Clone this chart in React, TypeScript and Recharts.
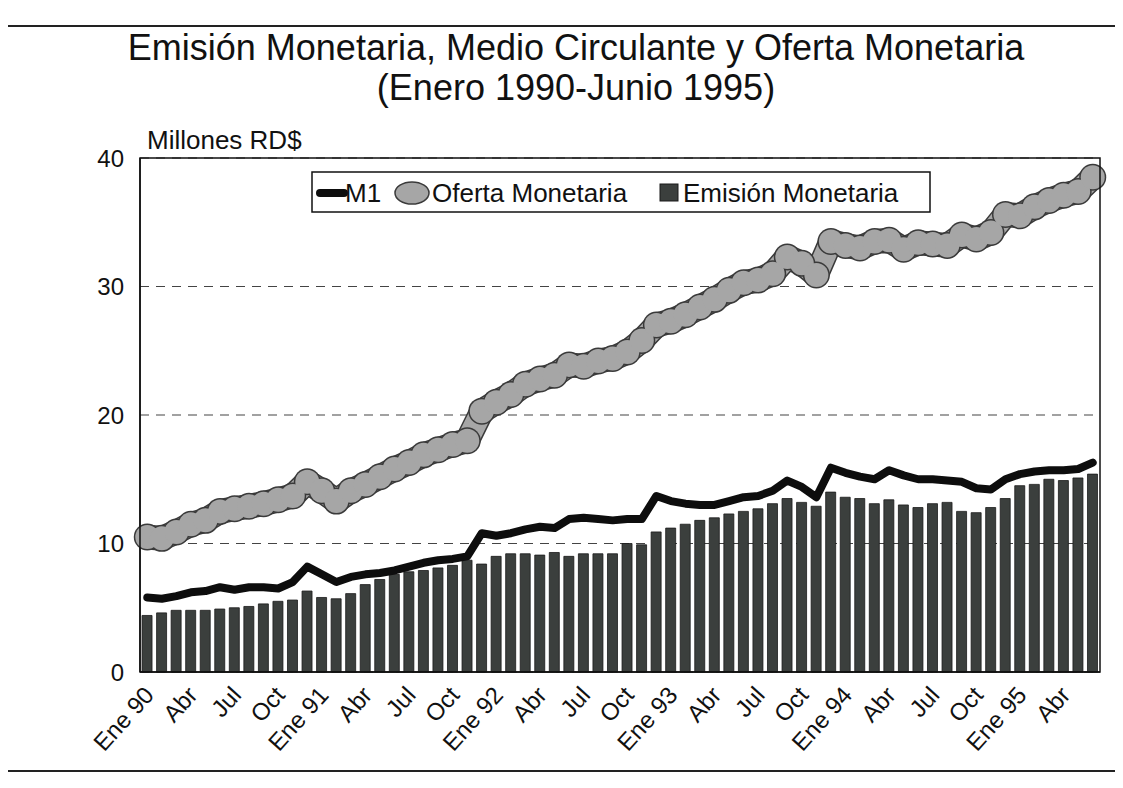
import React from 'react';
import { ComposedChart, Bar, Line, XAxis, YAxis, CartesianGrid } from 'recharts';

const FONT = '"Liberation Sans", Arial, Helvetica, sans-serif';

const monthNames = ['Ene', 'Feb', 'Mar', 'Abr', 'May', 'Jun', 'Jul', 'Ago', 'Sep', 'Oct', 'Nov', 'Dic'];
const yearLabels = ['90', '91', '92', '93', '94', '95'];

// Emisión Monetaria (barras), millones RD$
const emision = [
  4.4, 4.6, 4.8, 4.8, 4.8, 4.9, 5.0, 5.1, 5.3, 5.5, 5.6, 6.3,
  5.8, 5.7, 6.1, 6.8, 7.2, 7.6, 7.8, 7.9, 8.1, 8.3, 8.7, 8.4,
  9.0, 9.2, 9.2, 9.1, 9.3, 9.0, 9.2, 9.2, 9.2, 10.0, 9.9, 10.9,
  11.2, 11.5, 11.8, 12.0, 12.3, 12.5, 12.7, 13.1, 13.5, 13.2, 12.9, 14.0,
  13.6, 13.5, 13.1, 13.4, 13.0, 12.8, 13.1, 13.2, 12.5, 12.4, 12.8, 13.5,
  14.5, 14.6, 15.0, 14.9, 15.1, 15.4,
];

// M1 (medio circulante)
const m1 = [
  5.8, 5.7, 5.9, 6.2, 6.3, 6.6, 6.4, 6.6, 6.6, 6.5, 7.0, 8.2,
  7.6, 7.0, 7.4, 7.6, 7.7, 7.9, 8.2, 8.5, 8.7, 8.8, 9.0, 10.8,
  10.6, 10.8, 11.1, 11.3, 11.2, 11.9, 12.0, 11.9, 11.8, 11.9, 11.9, 13.7,
  13.3, 13.1, 13.0, 13.0, 13.3, 13.6, 13.7, 14.1, 14.9, 14.4, 13.6, 15.9,
  15.5, 15.2, 15.0, 15.7, 15.3, 15.0, 15.0, 14.9, 14.8, 14.3, 14.2, 15.0,
  15.4, 15.6, 15.7, 15.7, 15.8, 16.3,
];

// Oferta Monetaria
const oferta = [
  10.5, 10.4, 10.9, 11.5, 11.8, 12.5, 12.7, 12.9, 13.1, 13.4, 13.7, 14.8,
  14.1, 13.3, 14.1, 14.6, 15.2, 15.8, 16.3, 16.9, 17.3, 17.7, 18.0, 20.3,
  21.0, 21.6, 22.4, 22.8, 23.1, 23.9, 23.8, 24.2, 24.4, 24.9, 25.8, 27.0,
  27.3, 27.8, 28.4, 29.0, 29.7, 30.3, 30.5, 31.0, 32.3, 31.8, 30.9, 33.5,
  33.2, 33.0, 33.5, 33.6, 32.9, 33.4, 33.3, 33.2, 34.0, 33.7, 34.2, 35.6,
  35.5, 36.2, 36.7, 37.1, 37.4, 38.5,
];

const yTicks = [0, 10, 20, 30, 40];

const categories: string[] = [];
yearLabels.forEach((yr) => {
  monthNames.forEach((m) => {
    if (categories.length < emision.length) categories.push(m === 'Ene' ? `Ene ${yr}` : m);
  });
});

const data = categories.map((mes, i) => ({
  mes,
  emision: emision[i],
  m1: m1[i],
  oferta: oferta[i],
}));

const W = 1107;
const H = 772;
const margin = { top: 150, right: 15, bottom: 8, left: 92 };
const Y_AXIS_W = 40;
const X_AXIS_H = 100;
const plotLeft = margin.left + Y_AXIS_W;
const plotTop = margin.top;
const plotRight = W - margin.right;
const plotBottom = H - margin.bottom - X_AXIS_H;

const XTick = (props: any) => {
  const { x, y, payload } = props;
  const px = x + 8;
  const py = y + 16;
  return (
    <text
      x={px}
      y={py}
      textAnchor="end"
      fontSize={24}
      fontFamily={FONT}
      fill="#111"
      transform={`rotate(-48, ${px}, ${py})`}
    >
      {payload.value}
    </text>
  );
};

const App: React.FC = () => {
  return (
    <div style={{ position: 'relative', width: W, height: H, fontFamily: FONT, background: '#fff' }}>
      <div
        style={{
          position: 'absolute',
          left: -8,
          top: 17,
          width: W + 16,
          height: 743,
          borderTop: '2px solid #222',
          borderBottom: '2px solid #222',
        }}
      />
      <ComposedChart width={W} height={H} data={data} margin={margin} barCategoryGap="14%">
        <CartesianGrid vertical={false} strokeDasharray="9 7" stroke="#444" strokeWidth={1.2} />
        <XAxis
          dataKey="mes"
          interval={2}
          height={X_AXIS_H}
          tick={<XTick />}
          tickLine={false}
          axisLine={{ stroke: '#111', strokeWidth: 1.5 }}
        />
        <YAxis
          domain={[0, 40]}
          ticks={yTicks}
          width={Y_AXIS_W}
          tickLine={false}
          axisLine={{ stroke: '#111', strokeWidth: 1.5 }}
          tickMargin={10}
          tick={{ fontSize: 24, fill: '#111', fontFamily: FONT }}
        />
        <Bar dataKey="emision" fill="#3b3f3d" stroke="#1a1a1a" strokeWidth={0.8} isAnimationActive={false} />
        <Line
          dataKey="oferta"
          stroke="#3a3a3a"
          strokeWidth={25}
          strokeLinejoin="round"
          dot={{ r: 13.5, fill: '#3a3a3a', stroke: 'none' }}
          activeDot={false}
          isAnimationActive={false}
        />
        <Line
          dataKey="oferta"
          stroke="#a6a6a6"
          strokeWidth={22}
          strokeLinejoin="round"
          dot={{ r: 12, fill: '#a6a6a6', stroke: 'none' }}
          activeDot={false}
          isAnimationActive={false}
        />
        <Line
          dataKey="m1"
          stroke="#0d0d0d"
          strokeWidth={8}
          strokeLinejoin="round"
          strokeLinecap="round"
          dot={false}
          activeDot={false}
          isAnimationActive={false}
        />
      </ComposedChart>
      <svg width={W} height={H} style={{ position: 'absolute', left: 0, top: 0, pointerEvents: 'none' }}>
        <rect
          x={plotLeft}
          y={plotTop}
          width={plotRight - plotLeft}
          height={plotBottom - plotTop}
          fill="none"
          stroke="#111"
          strokeWidth={1.5}
        />
        <text x={568} y={52} textAnchor="middle" fontSize={36} fontFamily={FONT} fill="#111">
          Emisión Monetaria, Medio Circulante y Oferta Monetaria
        </text>
        <text x={568} y={92} textAnchor="middle" fontSize={36} fontFamily={FONT} fill="#111">
          (Enero 1990-Junio 1995)
        </text>
        <text x={139} y={141} fontSize={26} fontFamily={FONT} fill="#111">
          Millones RD$
        </text>
        {/* leyenda */}
        <rect x={304} y={164} width={618} height={40} fill="#fff" stroke="#111" strokeWidth={1.5} />
        <line x1={312} y1={185} x2={336} y2={185} stroke="#0d0d0d" strokeWidth={8} strokeLinecap="round" />
        <text x={337} y={194} fontSize={26} fontFamily={FONT} fill="#111">M1</text>
        <ellipse cx={404} cy={185} rx={17} ry={11} fill="#a6a6a6" stroke="#3a3a3a" strokeWidth={1.5} />
        <text x={424} y={194} fontSize={26} fontFamily={FONT} fill="#111">Oferta Monetaria</text>
        <rect x={652} y={176} width={18} height={17} fill="#3b3f3d" stroke="#1a1a1a" />
        <text x={675} y={194} fontSize={26} fontFamily={FONT} fill="#111">Emisión Monetaria</text>
      </svg>
    </div>
  );
};

export default App;
